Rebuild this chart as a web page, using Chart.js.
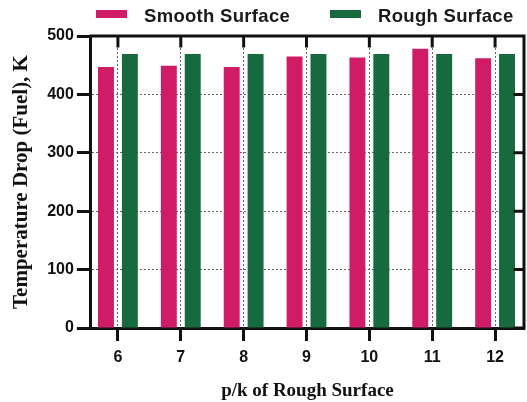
<!DOCTYPE html>
<html>
<head>
<meta charset="utf-8">
<script src="https://cdn.jsdelivr.net/npm/chart.js@4.4.1/dist/chart.umd.min.js"></script>
<style>
  body { margin: 0; background: #fff; }
  #wrap { position: relative; width: 527px; height: 402px; }
  #legend {
    position: absolute; left: 96px; top: 5px;
    display: flex; align-items: center; white-space: nowrap;
    font: bold 18.5px "Liberation Sans", Arial, sans-serif;
    line-height: 22px; letter-spacing: 0.3px; color: #1a1a1a;
  }
  #legend .item { display: flex; align-items: center; margin-right: 40px; }
  #legend .box { width: 31px; height: 8px; margin-right: 17px; transform: translateY(-2px); }
</style>
</head>
<body>
<div id="wrap">
  <canvas id="chart"></canvas>
  <div id="legend"></div>
</div>
<script>
const pkValues = [6, 7, 8, 9, 10, 11, 12]
const smoothSurface = [447, 449, 447, 465, 463, 478, 462]
const roughSurface = [469, 469, 469, 469, 469, 469, 469]
const yTicks = [0, 100, 200, 300, 400, 500]

const pink = "#d01c66"
const green = "#166a3d"
const ink = "#111111"

const toPoints = (values) => values.map((v, i) => ({ x: pkValues[i], y: v }))

// top and right frame with inward tick marks
const frame = {
  id: "frame",
  afterDraw(chart) {
    const { ctx, chartArea: { top, right, bottom, left }, scales: { x, y } } = chart
    ctx.save()
    ctx.strokeStyle = ink
    ctx.lineWidth = 3
    ctx.lineCap = "square"
    ctx.beginPath()
    ctx.moveTo(left, top)
    ctx.lineTo(right, top)
    ctx.lineTo(right, bottom)
    x.ticks.forEach((t) => {
      const px = x.getPixelForValue(t.value)
      ctx.moveTo(px, top)
      ctx.lineTo(px, top + 10)
    })
    y.ticks.forEach((t) => {
      const py = y.getPixelForValue(t.value)
      ctx.moveTo(right, py)
      ctx.lineTo(right - 9, py)
    })
    ctx.stroke()
    ctx.restore()
  }
}

const chart = new Chart(document.getElementById("chart"), {
  type: "bar",
  data: {
    datasets: [
      { label: "Smooth Surface", data: toPoints(smoothSurface), backgroundColor: pink },
      { label: "Rough Surface", data: toPoints(roughSurface), backgroundColor: green }
    ]
  },
  options: {
    responsive: true,
    maintainAspectRatio: false,
    animation: false,
    categoryPercentage: 0.76,
    barPercentage: 0.667,
    layout: { padding: { top: 36, right: 3, bottom: 0, left: 3 } },
    plugins: {
      legend: { display: false },
      tooltip: { enabled: false }
    },
    scales: {
      x: {
        type: "linear",
        min: 5.57,
        max: 12.46,
        offset: false,
        afterBuildTicks: (scale) => {
          scale.ticks = pkValues.map((v) => ({ value: v }))
        },
        grid: {
          offset: false,
          color: "#666",
          lineWidth: 1,
          tickColor: ink,
          tickWidth: 3,
          tickLength: 13
        },
        border: { color: ink, width: 3, dash: [2, 2] },
        ticks: {
          padding: 7,
          color: ink,
          font: { family: "'Liberation Sans', Arial, sans-serif", size: 16, weight: "bold" }
        },
        title: {
          display: true,
          text: "p/k of Rough Surface",
          color: ink,
          padding: { top: 5, bottom: 0 },
          font: { family: "'Liberation Serif', 'Times New Roman', serif", size: 19, weight: "bold" }
        }
      },
      y: {
        min: 0,
        max: 500,
        afterBuildTicks: (scale) => {
          scale.ticks = yTicks.map((v) => ({ value: v }))
        },
        grid: {
          color: (c) => (c.tick && (c.tick.value === 0 || c.tick.value === 500) ? "rgba(0,0,0,0)" : "#666"),
          lineWidth: 1,
          tickColor: ink,
          tickWidth: 3,
          tickLength: 14
        },
        border: { color: ink, width: 3, dash: [2, 2] },
        ticks: {
          padding: 3,
          color: ink,
          font: { family: "'Liberation Sans', Arial, sans-serif", size: 16, weight: "bold" }
        },
        title: {
          display: true,
          text: "Temperature Drop (Fuel), K",
          color: ink,
          padding: { top: 6, bottom: 10 },
          font: { family: "'Liberation Serif', 'Times New Roman', serif", size: 21, weight: "bold" }
        }
      }
    }
  },
  plugins: [frame]
})

// html legend built from the datasets
const legend = document.getElementById("legend")
chart.data.datasets.forEach((ds) => {
  const item = document.createElement("span")
  item.className = "item"
  const box = document.createElement("span")
  box.className = "box"
  box.style.background = ds.backgroundColor
  const text = document.createElement("span")
  text.textContent = ds.label
  item.append(box, text)
  legend.append(item)
})
</script>
</body>
</html>
